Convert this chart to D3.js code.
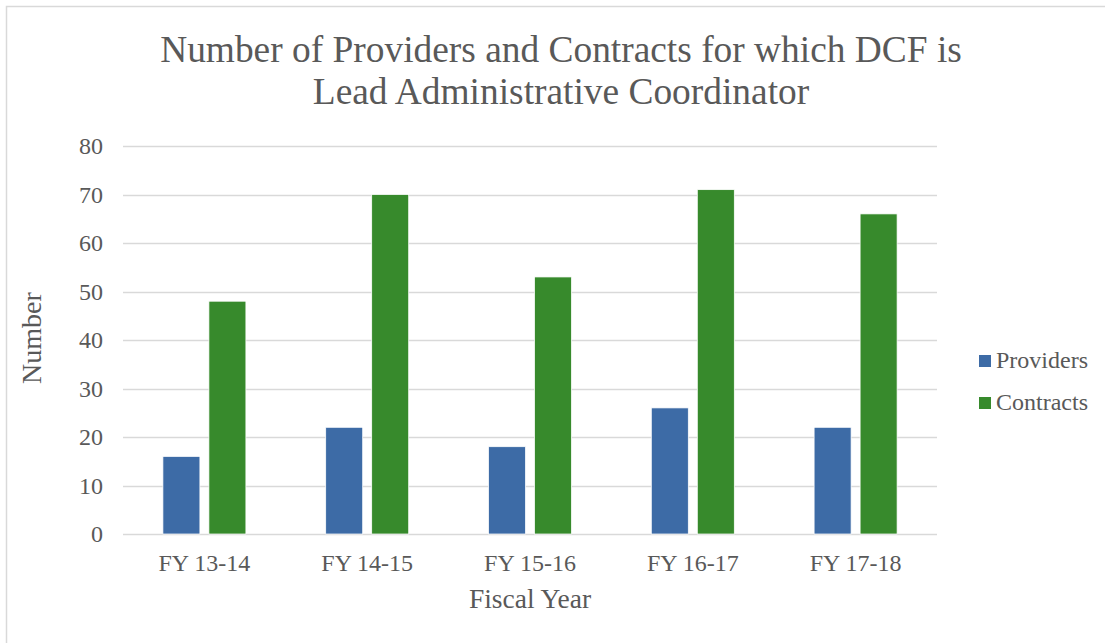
<!DOCTYPE html>
<html>
<head>
<meta charset="utf-8">
<script src="https://cdn.jsdelivr.net/npm/d3@7"></script>
<style>
  body { margin: 0; background: #fff; }
  text { font-family: "Liberation Serif", "Times New Roman", serif; fill: #595959; }
</style>
</head>
<body>
<div id="chart"></div>
<script>
const categories = ['FY 13-14', 'FY 14-15', 'FY 15-16', 'FY 16-17', 'FY 17-18'];
const seriesNames = ['Providers', 'Contracts'];
const providers = [16, 22, 18, 26, 22];
const contracts = [48, 70, 53, 71, 66];
const yTicks = [0, 10, 20, 30, 40, 50, 60, 70, 80];
const colors = ['#3d6ba6', '#378a2c'];

const width = 1105, height = 643;
const plot = {left: 123, right: 937, top: 146, bottom: 534};

const svg = d3.select('#chart')
    .append('svg')
    .attr('width', width)
    .attr('height', height);

// chart frame
svg.append('rect')
    .attr('x', 6.5).attr('y', 6.5)
    .attr('width', 1120).attr('height', 660)
    .attr('fill', '#fff')
    .attr('stroke', '#d9d9d9')
    .attr('stroke-width', 1.5);

const x = d3.scaleBand()
    .domain(categories)
    .range([plot.left, plot.right]);

const xSub = d3.scaleBand()
    .domain(seriesNames)
    .range([0, 83])
    .paddingInner(9 / 46);

const y = d3.scaleLinear()
    .domain([0, 80])
    .range([plot.bottom, plot.top]);

// gridlines
svg.append('g')
    .selectAll('line')
    .data(yTicks)
    .enter()
    .append('line')
    .attr('x1', plot.left)
    .attr('x2', plot.right)
    .attr('y1', d => Math.round(y(d)) + 0.5)
    .attr('y2', d => Math.round(y(d)) + 0.5)
    .attr('stroke', '#d9d9d9')
    .attr('stroke-width', 1.5);

// y tick labels
svg.append('g')
    .selectAll('text')
    .data(yTicks)
    .enter()
    .append('text')
    .attr('x', 103)
    .attr('y', d => y(d) + 8)
    .style('text-anchor', 'end')
    .style('font-size', '24px')
    .text(d => d);

// bars
const rows = categories.map((c, i) => ({cat: c, values: [providers[i], contracts[i]]}));
const offset = (x.bandwidth() - 83) / 2;

const groups = svg.append('g')
    .selectAll('g')
    .data(rows)
    .enter()
    .append('g')
    .attr('transform', d => `translate(${x(d.cat) + offset},0)`);

groups.selectAll('rect')
    .data(d => d.values.map((v, j) => ({name: seriesNames[j], value: v, idx: j})))
    .enter()
    .append('rect')
    .attr('x', d => xSub(d.name))
    .attr('y', d => y(d.value))
    .attr('width', xSub.bandwidth())
    .attr('height', d => y(0) - y(d.value))
    .attr('fill', d => colors[d.idx])
    .attr('stroke', '#fff')
    .attr('stroke-width', 0.75);

// x tick labels
svg.append('g')
    .selectAll('text')
    .data(categories)
    .enter()
    .append('text')
    .attr('x', d => x(d) + x.bandwidth() / 2)
    .attr('y', 571)
    .style('text-anchor', 'middle')
    .style('font-size', '24px')
    .text(d => d);

// axis titles
svg.append('text')
    .attr('x', (plot.left + plot.right) / 2)
    .attr('y', 608)
    .style('text-anchor', 'middle')
    .style('font-size', '27.5px')
    .text('Fiscal Year');

svg.append('text')
    .attr('transform', `translate(41,${(plot.top + plot.bottom) / 2 - 2}) rotate(-90)`)
    .style('text-anchor', 'middle')
    .style('font-size', '28px')
    .text('Number');

// title
const titleLines = ['Number of Providers and Contracts for which DCF is', 'Lead Administrative Coordinator'];
svg.append('g')
    .selectAll('text')
    .data(titleLines)
    .enter()
    .append('text')
    .attr('x', 561)
    .attr('y', (d, i) => 62 + i * 42)
    .style('text-anchor', 'middle')
    .style('font-size', '37.4px')
    .text(d => d);

// legend
const legend = svg.append('g')
    .selectAll('g')
    .data(seriesNames)
    .enter()
    .append('g')
    .attr('transform', (d, i) => `translate(979,${355 + i * 42})`);

legend.append('rect')
    .attr('width', 12)
    .attr('height', 12)
    .attr('fill', (d, i) => colors[i]);

legend.append('text')
    .attr('x', 17)
    .attr('y', 13)
    .style('font-size', '24px')
    .text(d => d);
</script>
</body>
</html>
